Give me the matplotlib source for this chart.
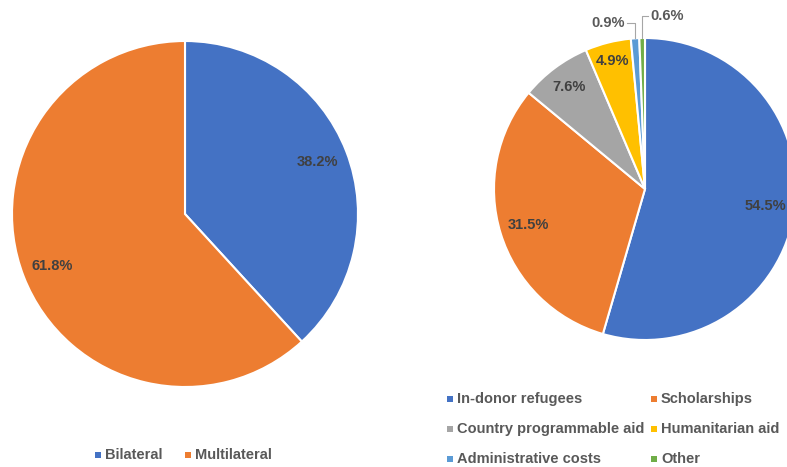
import matplotlib.pyplot as plt
import numpy as np
from matplotlib.patches import Rectangle

W, H = 787, 467

channel_labels = ["Bilateral", "Multilateral"]
channel_shares = [38.2, 61.8]
channel_colors = ["#4472C4", "#ED7D31"]

use_labels = ["In-donor refugees", "Scholarships", "Country programmable aid",
              "Humanitarian aid", "Administrative costs", "Other"]
use_shares = [54.5, 31.5, 7.6, 4.9, 0.9, 0.6]
use_colors = ["#4472C4", "#ED7D31", "#A5A5A5", "#FFC000", "#5B9BD5", "#70AD47"]

FONT = "Liberation Sans"
FS = 10.5


def px_axes(fig, cx, cy, r):
    return fig.add_axes([(cx - r) / W, 1 - (cy + r) / H, 2 * r / W, 2 * r / H])


def draw_pie(fig, ax, r_px, shares, colors, outside=None):
    # labels sit "inside end": the text box's outer corner touches 95% of the radius
    outside = outside or {}
    wedges, _ = ax.pie(shares, colors=colors, startangle=90, counterclock=False,
                       wedgeprops=dict(edgecolor="white", linewidth=1.5))
    ax.set_xlim(-1, 1)
    ax.set_ylim(-1, 1)
    renderer = fig.canvas.get_renderer()
    for idx, (w, v) in enumerate(zip(wedges, shares)):
        mid = np.deg2rad((w.theta1 + w.theta2) / 2)
        ex, ey = np.cos(mid), np.sin(mid)
        if idx in outside:
            tx, ty, ha, lx = outside[idx]
            ax.plot([ex, ex, lx], [ey, ty, ty], color="#A6A6A6", linewidth=0.8, clip_on=False)
            ax.text(tx, ty, f"{v:.1f}%", ha=ha, va="center", fontsize=FS, family=FONT,
                    fontweight="bold", color="#595959")
            continue
        t = ax.text(0, 0, f"{v:.1f}%", ha="center", va="center", fontsize=FS,
                    family=FONT, fontweight="bold", color="#404040")
        bb = t.get_window_extent(renderer)
        hw, hh = bb.width / 2 / r_px, bb.height / 2 / r_px
        cx, cy = np.sign(ex) * hw, np.sign(ey) * hh
        dc = ex * cx + ey * cy
        dist = -dc + np.sqrt(dc ** 2 - (cx ** 2 + cy ** 2) + 0.95 ** 2)
        t.set_position((dist * ex, dist * ey))


def draw_legend(fig, labels, colors, xs, ys):
    for label, color, x, y in zip(labels, colors, xs, ys):
        fig.add_artist(Rectangle(((x - 3) / W, 1 - (y + 3) / H), 6 / W, 6 / H,
                                 transform=fig.transFigure, facecolor=color, edgecolor="none"))
        fig.text((x + 7) / W, 1 - y / H, label, ha="left", va="center", fontsize=FS,
                 family=FONT, fontweight="bold", color="#595959")


fig = plt.figure(figsize=(W / 100, H / 100), dpi=100)

ax_left = px_axes(fig, 185, 214, 173)
draw_pie(fig, ax_left, 173, channel_shares, channel_colors)

ax_right = px_axes(fig, 645, 189, 151)
draw_pie(fig, ax_right, 151, use_shares, use_colors,
         outside={4: (-0.132, 1.10, "right", -0.12), 5: (0.033, 1.145, "left", 0.02)})

draw_legend(fig, channel_labels, channel_colors, [98, 188], [455, 455])
cols = [450, 654]
rows = [399, 429, 459]
draw_legend(fig, use_labels, use_colors,
            [cols[i % 2] for i in range(6)], [rows[i // 2] for i in range(6)])

fig.savefig("out.png", dpi=100)
plt.close(fig)
